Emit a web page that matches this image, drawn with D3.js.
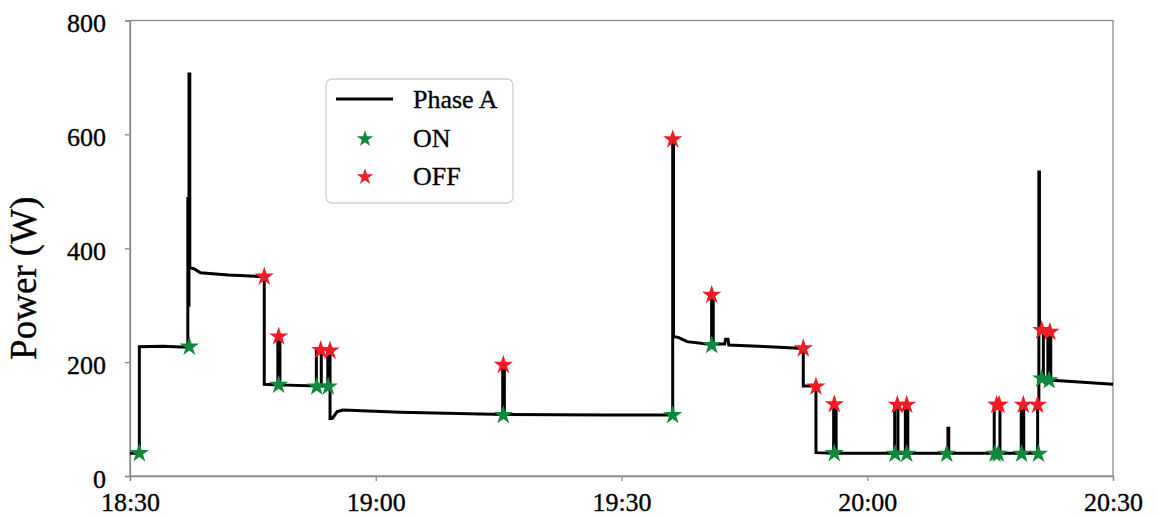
<!DOCTYPE html>
<html>
<head>
<meta charset="utf-8">
<script src="https://cdn.jsdelivr.net/npm/d3@7"></script>
<style>
  body { margin: 0; background: #fff; }
  svg text { font-family: 'Liberation Serif', 'Times New Roman', serif; fill: #000; stroke: #000; stroke-width: 0.35px; }
</style>
</head>
<body>
<div id="chart"></div>
<script>
// minutes after 18:30 and power in W
const phaseA = [
    [0, 40], [1.14, 40], [1.14, 227], [4, 228], [7.0, 226],
    [7.06, 226], [7.06, 490], [7.06, 300], [7.2, 300], [7.2, 706], [7.3, 706], [7.3, 366],
    [7.8, 364], [8.6, 357], [12, 353], [16.39, 350],
    [16.39, 161], [18.05, 160], [18.05, 245], [18.3, 245], [18.3, 160],
    [22.75, 158], [22.75, 221], [23.35, 221], [23.35, 158],
    [24.15, 158], [24.15, 220], [24.42, 220], [24.42, 101], [24.7, 101],
    [25.3, 113], [26, 116], [33, 112], [45.5, 108],
    [45.5, 195], [45.7, 195], [45.7, 108], [58, 107], [66.25, 107],
    [66.25, 591], [66.35, 591], [66.35, 245], [67, 243], [68, 236], [71.0, 231],
    [71.0, 318], [71.2, 318], [71.2, 232], [72.6, 232], [72.7, 240], [73.0, 240], [73.1, 230],
    [78, 227], [82.19, 224],
    [82.19, 158], [83.74, 158], [83.74, 41],
    [85.9, 40], [85.9, 126], [86.2, 126], [86.2, 40],
    [93.35, 40], [93.35, 125], [93.75, 125], [93.75, 40],
    [94.65, 40], [94.65, 125], [94.95, 125], [94.95, 40],
    [99.85, 40], [99.85, 84], [99.95, 84], [99.95, 40],
    [105.5, 40], [105.5, 125], [106.2, 125], [106.2, 40],
    [108.8, 40], [108.8, 125], [109.1, 125], [109.1, 40],
    [110.8, 40], [110.8, 125], [110.95, 125], [110.95, 534], [111.02, 534], [111.02, 256],
    [111.5, 256], [111.5, 172], [112.05, 170], [112.05, 253], [112.4, 253], [112.4, 168],
    [114, 167], [120, 161]
];

const onEvents = [
    [1.14, 40], [7.24, 227], [18.15, 160], [22.79, 157], [24.21, 157],
    [45.57, 107], [66.25, 107], [71.01, 230], [85.98, 40], [93.39, 39],
    [94.82, 39], [99.7, 39], [105.6, 39], [106.0, 39], [108.85, 39],
    [110.9, 39], [111.3, 171], [112.2, 168]
];

const offEvents = [
    [16.39, 350], [18.15, 245], [23.28, 221], [24.41, 220], [45.57, 195],
    [66.25, 591], [71.01, 318], [82.19, 224], [83.74, 157], [85.98, 126],
    [93.67, 125], [94.82, 125], [105.8, 125], [106.1, 125], [109.05, 125],
    [110.8, 125], [111.3, 256], [112.3, 253]
];

const xTicks = [0, 30, 60, 90, 120];
const xTickLabels = ["18:30", "19:00", "19:30", "20:00", "20:30"];
const yTicks = [0, 200, 400, 600, 800];

const width = 1158, height = 517;
const margin = { top: 20.5, right: 45, bottom: 41, left: 130 };
const serif = "'Liberation Serif', 'Times New Roman', serif";

const svg = d3.select("#chart").append("svg")
    .attr("width", width)
    .attr("height", height);

const x = d3.scaleLinear().domain([0, 120]).range([margin.left, width - margin.right]);
const y = d3.scaleLinear().domain([0, 800]).range([height - margin.bottom, margin.top]);

const green = "#10893e";
const red = "#ee1d25";
const axisColor = "#8a8a8a";

// plot frame
svg.append("rect")
    .attr("x", x(0)).attr("y", y(800))
    .attr("width", x(120) - x(0)).attr("height", y(0) - y(800))
    .attr("fill", "none")
    .attr("stroke", axisColor)
    .attr("stroke-width", 1.3);

// x axis
const xAxis = svg.append("g")
    .attr("transform", `translate(0,${y(0)})`)
    .call(d3.axisBottom(x).tickValues(xTicks).tickSize(5)
        .tickFormat((d, i) => xTickLabels[i]));
xAxis.attr("font-family", serif);
xAxis.select(".domain").attr("stroke", axisColor).attr("stroke-width", 1.3);
xAxis.selectAll(".tick line").attr("stroke", axisColor).attr("stroke-width", 1.3);
xAxis.selectAll(".tick text")
    .attr("y", 35).attr("dy", 0)
    .style("font-size", "26px")
    .style("font-family", serif);

// y axis
const yAxis = svg.append("g")
    .attr("transform", `translate(${x(0)},0)`)
    .call(d3.axisLeft(y).tickValues(yTicks).tickSize(5).tickPadding(19));
yAxis.attr("font-family", serif);
yAxis.select(".domain").attr("stroke", axisColor).attr("stroke-width", 1.3);
yAxis.selectAll(".tick line").attr("stroke", axisColor).attr("stroke-width", 1.3);
yAxis.selectAll(".tick text")
    .attr("dy", "0.44em")
    .style("font-size", "26px")
    .style("font-family", serif);

// axis title
svg.append("text")
    .attr("transform", `translate(36,${(y(0) + y(800)) / 2 + 30}) rotate(-90)`)
    .attr("text-anchor", "middle")
    .style("font-size", "37px")
    .text("Power (W)");

// power line
const line = d3.line()
    .x(d => x(d[0]))
    .y(d => y(d[1]));

svg.append("path")
    .datum(phaseA)
    .attr("d", line)
    .attr("fill", "none")
    .attr("stroke", "#000")
    .attr("stroke-width", 3)
    .attr("stroke-linejoin", "miter");

// event stars
const star = d3.symbol().type(d3.symbolStar).size(115);

svg.selectAll(".on-star")
    .data(onEvents)
    .join("path")
    .attr("class", "on-star")
    .attr("d", star)
    .attr("transform", d => `translate(${x(d[0])},${y(d[1])})`)
    .attr("fill", green);

svg.selectAll(".off-star")
    .data(offEvents)
    .join("path")
    .attr("class", "off-star")
    .attr("d", star)
    .attr("transform", d => `translate(${x(d[0])},${y(d[1])})`)
    .attr("fill", red);

// legend
const legend = svg.append("g").attr("transform", "translate(326,79)");

legend.append("rect")
    .attr("width", 187).attr("height", 124)
    .attr("rx", 6).attr("ry", 6)
    .attr("fill", "#fff")
    .attr("stroke", "#cfcfcf")
    .attr("stroke-width", 1.3);

legend.append("line")
    .attr("x1", 10).attr("x2", 67)
    .attr("y1", 20).attr("y2", 20)
    .attr("stroke", "#000").attr("stroke-width", 3);

const legendStar = d3.symbol().type(d3.symbolStar).size(85);
legend.append("path").attr("d", legendStar)
    .attr("transform", "translate(39,60)").attr("fill", green);
legend.append("path").attr("d", legendStar)
    .attr("transform", "translate(39,98)").attr("fill", red);

const legendItems = ["Phase A", "ON", "OFF"];
legend.selectAll(".legend-label")
    .data(legendItems)
    .join("text")
    .attr("class", "legend-label")
    .attr("x", 87)
    .attr("y", (d, i) => 29 + i * 38.5)
    .style("font-size", "26px")
    .text(d => d);
</script>
</body>
</html>
